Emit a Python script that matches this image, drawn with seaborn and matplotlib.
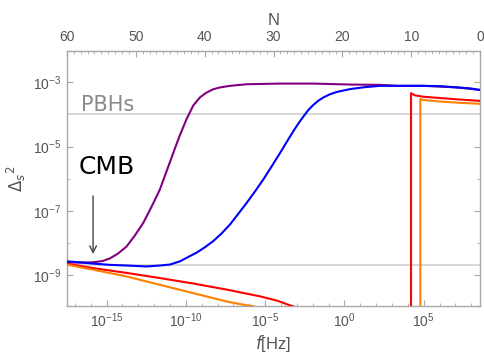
import numpy as np
import pandas as pd
import matplotlib
matplotlib.use("Agg")
import matplotlib.pyplot as plt
import seaborn as sns
from matplotlib.ticker import FixedLocator, NullFormatter, FuncFormatter

# ---- data (log10 of f in Hz, log10 of Delta_s^2) ----
purple_logf = [-17.53, -16.69, -15.85, -15.24, -14.79, -14.28, -13.74, -13.22, -12.69,
               -12.16, -11.64, -11.32, -11.00, -10.69, -10.37, -9.95, -9.53, -9.11,
               -8.73, -8.29, -7.85, -7.21, -6.16, -4.06, -1.95, 0.37, 2.26, 3.32,
               4.98, 7.11, 8.58]
purple_logd = [-8.60, -8.61, -8.60, -8.56, -8.48, -8.33, -8.11, -7.77, -7.38,
               -6.87, -6.34, -5.91, -5.48, -5.06, -4.64, -4.14, -3.72, -3.47,
               -3.33, -3.22, -3.16, -3.11, -3.06, -3.04, -3.04, -3.07, -3.08, -3.11,
               -3.11, -3.16, -3.24]

blue_logf = [-17.53, -16.69, -15.85, -14.79, -13.74, -12.48, -11.64, -11.00, -10.37,
             -9.87, -9.32, -8.79, -8.27, -7.74, -7.21, -6.69, -6.16, -5.63, -5.11,
             -4.58, -4.06, -3.63, -3.22, -2.90, -2.58, -2.27, -1.95, -1.64, -1.32,
             -0.90, -0.47, 0.37, 1.31, 2.26, 3.32, 4.16, 4.98, 6.05, 7.11, 7.95, 8.58]
blue_logd = [-8.57, -8.60, -8.64, -8.68, -8.70, -8.73, -8.70, -8.67, -8.57,
             -8.44, -8.30, -8.13, -7.94, -7.70, -7.42, -7.09, -6.75, -6.39, -6.02,
             -5.61, -5.20, -4.85, -4.52, -4.28, -4.06, -3.86, -3.70, -3.57, -3.47,
             -3.37, -3.30, -3.21, -3.15, -3.11, -3.11, -3.11, -3.11, -3.12, -3.16, -3.19, -3.24]

red_low_logf = [-17.53, -15.85, -13.74, -11.64, -9.53, -7.42, -5.32, -4.26, -3.42, -2.79]
red_low_logd = [-8.64, -8.78, -8.93, -9.09, -9.26, -9.45, -9.66, -9.79, -9.94, -10.05]
red_high_logf = [4.20, 4.20, 4.47, 5.00, 6.05, 7.11, 8.58]
red_high_logd = [-11.0, -3.34, -3.41, -3.45, -3.49, -3.53, -3.58]

orange_low_logf = [-17.53, -15.85, -13.74, -11.64, -9.53, -7.42, -6.58, -5.74, -5.00]
orange_low_logd = [-8.67, -8.83, -9.04, -9.30, -9.56, -9.82, -9.90, -9.97, -10.08]
orange_high_logf = [4.79, 4.79, 4.98, 6.05, 7.32, 8.58]
orange_high_logd = [-11.0, -3.52, -3.55, -3.60, -3.64, -3.67]

cmb_level = 2.1e-9
pbh_level = 1e-4

x_ticks = [1e-15, 1e-10, 1e-5, 1e0, 1e5]
y_ticks = [1e-9, 1e-7, 1e-5, 1e-3]
n_ticks = [0, 10, 20, 30, 40, 50, 60]

# ---- build a long table ----
segments = [
    ("purple", 0, purple_logf, purple_logd),
    ("blue", 1, blue_logf, blue_logd),
    ("red", 2, red_low_logf, red_low_logd),
    ("red", 3, red_high_logf, red_high_logd),
    ("orange", 4, orange_low_logf, orange_low_logd),
    ("orange", 5, orange_high_logf, orange_high_logd),
]
rows = []
for name, seg, lf, ld in segments:
    for a, b in zip(lf, ld):
        rows.append({"curve": name, "seg": seg, "f": 10.0 ** a, "delta": 10.0 ** b})
df = pd.DataFrame(rows)

palette = {"purple": "#800080", "blue": "#0000FF", "red": "#FF0000", "orange": "#FF8000"}

sns.set_style("white")
plt.rcParams["font.family"] = ["Liberation Sans", "DejaVu Sans"]
plt.rcParams["mathtext.fontset"] = "dejavusans"

frame_col = "#a8a8a8"
text_col = "#555555"

fig = plt.figure(figsize=(4.85, 3.55), dpi=100)
ax = fig.add_axes([0.138, 0.138, 0.852, 0.718])

XR = 8.56
XL = XR - 60 / np.log(10)
ax.set_xscale("log")
ax.set_yscale("log")
ax.set_xlim(10 ** XL, 10 ** XR)
ax.set_ylim(10 ** -9.96, 10 ** -2.03)

ax.axhline(pbh_level, color="#d4d4d4", lw=1.3, zorder=1)
ax.axhline(cmb_level, color="#d4d4d4", lw=1.3, zorder=1)

sns.lineplot(data=df, x="f", y="delta", hue="curve", units="seg", estimator=None,
             sort=False, palette=palette, hue_order=["purple", "blue", "red", "orange"],
             lw=1.5, legend=False, ax=ax, zorder=3)

# texts
ax.text(10 ** -14.96, 10 ** -3.70, "PBHs", color="#8a8a8a", fontsize=15,
        family="DejaVu Sans", ha="center", va="center")
ax.text(10 ** -14.96, 10 ** -5.63, "CMB", color="black", fontsize=18,
        family="DejaVu Sans", ha="center", va="center")
ax.annotate("", xy=(10 ** -15.85, 10 ** -8.43), xytext=(10 ** -15.85, 10 ** -6.45),
            arrowprops=dict(arrowstyle="->", color="#444444", lw=1.0,
                            mutation_scale=12))

# axes styling
for s in ax.spines.values():
    s.set_color(frame_col)
    s.set_linewidth(1.0)

ax.xaxis.set_major_locator(FixedLocator(x_ticks))
ax.xaxis.set_minor_locator(FixedLocator([10.0 ** k for k in range(-18, 10)]))
ax.xaxis.set_minor_formatter(NullFormatter())
ax.yaxis.set_major_locator(FixedLocator(y_ticks))
ax.yaxis.set_minor_locator(FixedLocator([10.0 ** k for k in range(-11, -1)]))
ax.yaxis.set_minor_formatter(NullFormatter())

ax.tick_params(which="both", direction="in", color=frame_col, labelcolor=text_col,
               labelsize=10, top=False, right=True, bottom=True, left=True)
ax.tick_params(which="major", length=4.5, width=0.8, pad=4)
ax.tick_params(which="minor", length=2.4, width=0.6)

ax.set_xlabel("$f$[Hz]", color=text_col, fontsize=12, labelpad=2)
ax.set_ylabel(r"$\Delta_s{}^2$", color=text_col, fontsize=12, labelpad=4)


def f2N(f):
    f = np.asarray(f, dtype=float)
    return (XR - np.log10(np.clip(f, 1e-300, None))) * np.log(10)


def N2f(n):
    n = np.asarray(n, dtype=float)
    return 10.0 ** (XR - n / np.log(10))


sec = ax.secondary_xaxis("top", functions=(f2N, N2f))
sec.xaxis.set_major_locator(FixedLocator(n_ticks))
sec.xaxis.set_minor_locator(FixedLocator(list(range(0, 61))))
sec.xaxis.set_major_formatter(FuncFormatter(lambda v, p: f"{v:.0f}"))
sec.xaxis.set_minor_formatter(NullFormatter())
sec.tick_params(which="both", direction="in", color=frame_col, labelcolor=text_col,
                labelsize=10)
sec.tick_params(which="major", length=4.5, width=0.8, pad=5)
sec.tick_params(which="minor", length=2.4, width=0.6)
sec.spines["top"].set_color(frame_col)
sec.set_xlabel("N", color=text_col, fontsize=12, labelpad=4)

fig.savefig("out.png", dpi=100)
